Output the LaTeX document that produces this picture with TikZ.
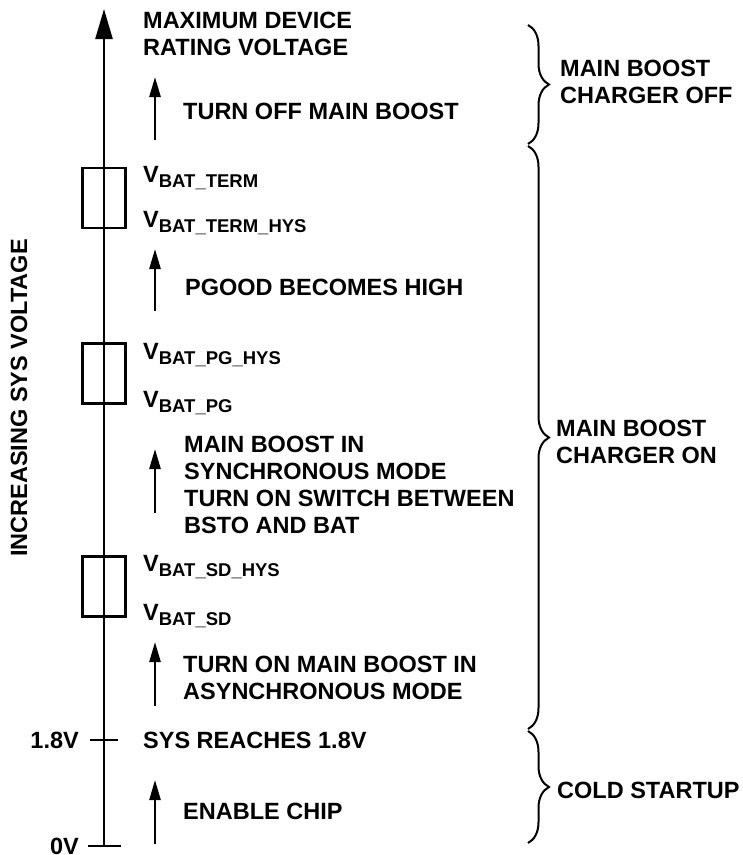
\documentclass[tikz,border=0pt]{standalone}
\usepackage{fontspec}
\setmainfont{Liberation Sans}
\usetikzlibrary{arrows.meta,positioning,decorations.pathreplacing}

\newcommand{\vsub}[1]{V\raisebox{-5pt}{\fontsize{18.5}{18.5}\selectfont #1}}

\tikzset{
  txt/.style={font=\fontsize{23.5}{26.7}\selectfont\bfseries, anchor=base west, inner sep=0pt, align=left},
  hysbox/.style={draw, line width=2.5pt, minimum width=43pt, minimum height=60pt, inner sep=0pt},
  uparrow/.style={line width=2.5pt, -{Triangle[length=20pt,width=11pt]}},
  tick/.style={line width=2.5pt},
  curly/.style={line width=2pt, decorate, decoration={brace, amplitude=21pt}},
}

\begin{document}
\begin{tikzpicture}[x=1pt,y=-1pt]
  \useasboundingbox (0,0) rectangle (743,855);

  % voltage axis
  \coordinate (zero) at (104,846);
  \coordinate (vmax) at (104,9);
  \draw[line width=2.5pt, -{Triangle[length=30pt,width=17pt]}] (zero) -- (vmax);
  \node[txt, rotate=90, anchor=center] (ylabel) at (19,398) {INCREASING SYS VOLTAGE};

  % ticks
  \coordinate (t0l) at (88,846);
  \coordinate (t0r) at (121,846);
  \draw[tick] (t0l) -- (t0r);
  \node[txt, anchor=base east] (l0) at (79,854.5) {0V};
  \coordinate (t1l) at (90,740);
  \coordinate (t1r) at (118,740);
  \draw[tick] (t1l) -- (t1r);
  \node[txt, anchor=base east] (l18) at (79,748) {1.8V};

  % hysteresis windows
  \node[hysbox] (term) at (104,198) {};
  \node[hysbox] (pg) at (104,373.5) {};
  \node[hysbox] (sd) at (104,586.5) {};

  % threshold labels (multi-line: last baseline)
  \node[txt] (vmaxlbl) at (143,55) {MAXIMUM DEVICE\\RATING VOLTAGE};
  \node[txt] (termlbl) at (143,182) {\vsub{BAT\_TERM}};
  \node[txt] (termhys) at (143,227) {\vsub{BAT\_TERM\_HYS}};
  \node[txt] (pghys) at (143,359) {\vsub{BAT\_PG\_HYS}};
  \node[txt] (pglbl) at (143,407) {\vsub{BAT\_PG}};
  \node[txt] (sdhys) at (143,571) {\vsub{BAT\_SD\_HYS}};
  \node[txt] (sdlbl) at (143,620) {\vsub{BAT\_SD}};
  \node[txt] (syslbl) at (143,748) {SYS REACHES 1.8V};

  % events
  \coordinate (a1b) at (155,140);
  \coordinate (a1t) at (155,77);
  \draw[uparrow] (a1b) -- (a1t);
  \node[txt] (offev) at (183,119) {TURN OFF MAIN BOOST};

  \coordinate (a2b) at (155,311);
  \coordinate (a2t) at (155,249);
  \draw[uparrow] (a2b) -- (a2t);
  \node[txt] (pgev) at (185,295) {PGOOD BECOMES HIGH};

  \coordinate (a3b) at (155,513);
  \coordinate (a3t) at (155,449);
  \draw[uparrow] (a3b) -- (a3t);
  \node[txt] (syncev) at (184,533) {MAIN BOOST IN\\SYNCHRONOUS MODE\\TURN ON SWITCH BETWEEN\\BSTO AND BAT};

  \coordinate (a4b) at (155,706);
  \coordinate (a4t) at (155,642);
  \draw[uparrow] (a4b) -- (a4t);
  \node[txt] (asyncev) at (183,699) {TURN ON MAIN BOOST IN\\ASYNCHRONOUS MODE};

  \coordinate (a5b) at (155,844);
  \coordinate (a5t) at (155,780);
  \draw[uparrow] (a5b) -- (a5t);
  \node[txt] (enev) at (183,819) {ENABLE CHIP};

  % charger states
  \coordinate (b1t) at (528,25);
  \coordinate (b1b) at (528,144);
  \draw[curly] (b1t) -- (b1b);
  \node[txt] (offst) at (560,103) {MAIN BOOST\\CHARGER OFF};

  \coordinate (b2t) at (528,146);
  \coordinate (b2b) at (528,729);
  \draw[curly] (b2t) -- (b2b);
  \node[txt] (onst) at (556,463) {MAIN BOOST\\CHARGER ON};

  \coordinate (b3t) at (528,731);
  \coordinate (b3b) at (528,843);
  \draw[curly] (b3t) -- (b3b);
  \node[txt] (coldst) at (557,798) {COLD STARTUP};
\end{tikzpicture}
\end{document}
